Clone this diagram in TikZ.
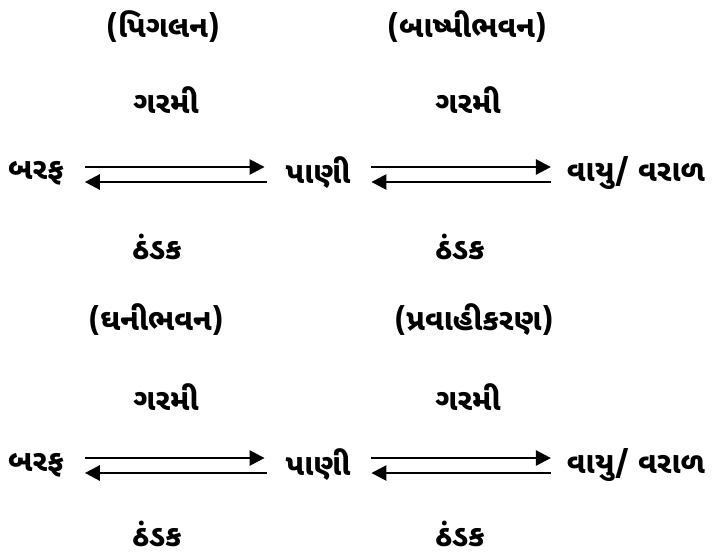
\documentclass[tikz,border=0pt]{standalone}
\usepackage{fontspec}
\newfontfamily\gujfont[Script=Gujarati]{Noto Sans Gujarati UI}
\usetikzlibrary{arrows.meta,positioning}

\tikzset{
  lbl/.style={inner sep=0pt, outer sep=0pt, font=\gujfont\bfseries\fontsize{30}{36}\selectfont},
  fwd/.style={line width=2.5pt, -{Triangle[length=15pt,width=15pt]}},
  bwd/.style={line width=2.5pt, {Triangle[length=15pt,width=15pt]}-}
}

\begin{document}
\begin{tikzpicture}[x=1pt, y=-1pt]
    \useasboundingbox (0,0) rectangle (714,555);

    % upper row
    \node[lbl] (pigalan) at (163,27) {(પિગલન)};
    \node[lbl] (bashp) at (467,27) {(બાષ્પીભવન)};
    \node[lbl] (garmi1) at (166,100) {ગરમી};
    \node[lbl] (garmi2) at (468,100) {ગરમી};
    \node[lbl] (baraf1) at (36,173) {બરફ};
    \node[lbl] (pani1) at (318,173) {પાણી};
    \node[lbl] (vayu1) at (636,173) {વાયુ/ વરાળ};
    \node[lbl] (thandak1) at (157,247) {ઠંડક};
    \node[lbl] (thandak2) at (460,247) {ઠંડક};

    \draw[fwd, shorten <=21pt, shorten >=21pt] ([yshift=6pt]baraf1.east) -- ([yshift=6pt]pani1.west);
    \draw[bwd, shorten <=21pt, shorten >=19pt] ([yshift=-9pt]baraf1.east) -- ([yshift=-9pt]pani1.west);
    \draw[fwd, shorten <=21pt, shorten >=16pt] ([yshift=6pt]pani1.east) -- ([yshift=6pt]vayu1.west);
    \draw[bwd, shorten <=21pt, shorten >=16pt] ([yshift=-9pt]pani1.east) -- ([yshift=-9pt]vayu1.west);

    % lower row
    \node[lbl] (ghani) at (156,320) {(ઘનીભવન)};
    \node[lbl] (pravahi) at (474,320) {(પ્રવાહીકરણ)};
    \node[lbl] (garmi3) at (166,397) {ગરમી};
    \node[lbl] (garmi4) at (468,397) {ગરમી};
    \node[lbl] (baraf2) at (36,465) {બરફ};
    \node[lbl] (pani2) at (318,465) {પાણી};
    \node[lbl] (vayu2) at (636,465) {વાયુ/ વરાળ};
    \node[lbl] (thandak3) at (157,534) {ઠંડક};
    \node[lbl] (thandak4) at (460,534) {ઠંડક};

    \draw[fwd, shorten <=21pt, shorten >=21pt] ([yshift=7pt]baraf2.east) -- ([yshift=7pt]pani2.west);
    \draw[bwd, shorten <=21pt, shorten >=19pt] ([yshift=-8pt]baraf2.east) -- ([yshift=-8pt]pani2.west);
    \draw[fwd, shorten <=21pt, shorten >=16pt] ([yshift=7pt]pani2.east) -- ([yshift=7pt]vayu2.west);
    \draw[bwd, shorten <=21pt, shorten >=16pt] ([yshift=-8pt]pani2.east) -- ([yshift=-8pt]vayu2.west);
\end{tikzpicture}
\end{document}
